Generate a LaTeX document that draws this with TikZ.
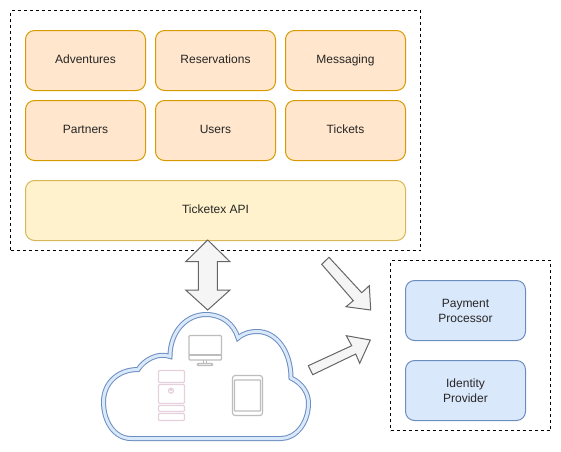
\documentclass[tikz,border=0pt]{standalone}
\usepackage{xcolor}
\usepackage{fontspec}
\setmainfont{Liberation Sans}
\usetikzlibrary{arrows}

\definecolor{orangefill}{HTML}{FFE6CC}
\definecolor{orangeline}{HTML}{D79B00}
\definecolor{yellowfill}{HTML}{FFF2CC}
\definecolor{yellowline}{HTML}{D6B656}
\definecolor{bluefill}{HTML}{DAE8FC}
\definecolor{blueline}{HTML}{6C8EBF}
\definecolor{arrowfill}{HTML}{F5F5F5}
\definecolor{arrowline}{HTML}{666666}
\definecolor{iconline}{HTML}{BDBDBD}
\definecolor{serverline}{HTML}{E6D0DE}

\begin{document}
\begin{tikzpicture}[x=0.75pt,y=-0.75pt,auto,node distance=97.5pt,line width=0.75pt,
    font=\fontsize{9}{11.25}\selectfont,
    main node/.style={rectangle,rounded corners=6.75pt,draw,align=center,text=black!85,minimum width=90pt,minimum height=45pt,inner sep=0pt},
    service node/.style={main node,fill=orangefill,draw=orangeline,text height=6.6pt,text depth=1.9pt},
    api node/.style={main node,fill=yellowfill,draw=yellowline,minimum width=285pt,text height=6.6pt,text depth=1.9pt},
    provider node/.style={main node,fill=bluefill,draw=blueline},
    group node/.style={rectangle,draw,dash pattern=on 2.25pt off 2.25pt,inner sep=0pt},
    block arrow/.style={draw=arrowline,fill=arrowfill,line join=miter},
    icon part/.style={draw=iconline,line width=0.9pt,rounded corners=0.8pt},
    server part/.style={draw=serverline,line width=0.9pt,rounded corners=0.8pt}]
    \useasboundingbox (0,0) rectangle (561,451);

    \node[group node,minimum width=307.5pt,minimum height=180pt] (backend) at (215.5,130.5) {};
    \node[group node,minimum width=120pt,minimum height=127.5pt] (external) at (470.5,345.5) {};

    \node[service node] (adventures) at (85.5,60.5) {Adventures};
    \node[service node] (reservations) [right of=adventures] {Reservations};
    \node[service node] (messaging) [right of=reservations] {Messaging};
    \node[service node] (partners) at (85.5,130.5) {Partners};
    \node[service node] (users) [right of=partners] {Users};
    \node[service node] (tickets) [right of=users] {Tickets};
    \node[api node] (api) at (215.5,210.5) {Ticketex API};

    \node[provider node] (payment) at (465.5,310.5) {Payment\\Processor};
    \node[provider node] (identity) at (465.5,390.5) {Identity\\Provider};

    % cloud
    \draw[draw=blueline,double=bluefill,double distance=2.25pt,fill=white,line width=0.75pt]
    (131,438.5) .. controls (114,438.5) and (103.5,421) .. (103.5,402)
    .. controls (103.5,383) and (118,369.5) .. (138,369.5)
    .. controls (144,360) and (158,352) .. (170,356.5)
    .. controls (170,332) and (186,314.5) .. (206,314.5)
    .. controls (222,314.5) and (234,324) .. (238,338)
    .. controls (244,333) and (250,331.5) .. (257,331.5)
    .. controls (277,331.5) and (291,352) .. (291,378)
    .. controls (302,383) and (308.5,393) .. (308.5,403)
    .. controls (308.5,423) and (296,438.5) .. (281,438.5) -- cycle;

    % monitor
    \draw[icon part] (189,335.5) rectangle (221.5,360);
    \draw[icon part] (189,355) -- (221.5,355);
    \draw[icon part] (203.5,360) -- (203.5,363.5) (206.5,360) -- (206.5,363.5);
    \draw[icon part] (197.5,363.5) rectangle (212.5,365.5);

    % tablet
    \draw[icon part,rounded corners=2pt] (232.5,375.5) rectangle (262.5,415.5);
    \draw[icon part,rounded corners=0.3pt] (234.5,380) rectangle (260.5,411);

    % server
    \draw[server part] (158.5,370.5) rectangle (184.5,382.5);
    \draw[server part] (158.5,384.5) rectangle (184.5,403.5);
    \draw[server part] (158.5,405.5) rectangle (184.5,411.5);
    \draw[server part] (158.5,413.5) rectangle (184.5,420.5);
    \draw[server part] (171,390.7) circle (2.5);
    \draw[server part] (171,387.5) -- (171,390.5);

    % block arrows
    \draw[block arrow] (207.7,240) -- (230,261.7) -- (217.3,261.7) -- (217.3,290) -- (230,290)
    -- (207.7,310) -- (185.7,290) -- (198.3,290) -- (198.3,261.7) -- (185.7,261.7) -- cycle;
    \draw[block arrow] (321.7,264.3) -- (329,257.3) -- (361.7,292.7) -- (369.3,285.7)
    -- (370.7,310) -- (346,306.7) -- (353.3,300.7) -- cycle;
    \draw[block arrow] (308.3,365.7) -- (351.7,345.7) -- (346.3,335.7) -- (370.3,340)
    -- (359.7,363.3) -- (355.7,354) -- (312.7,374.7) -- cycle;
  \end{tikzpicture}
\end{document}
